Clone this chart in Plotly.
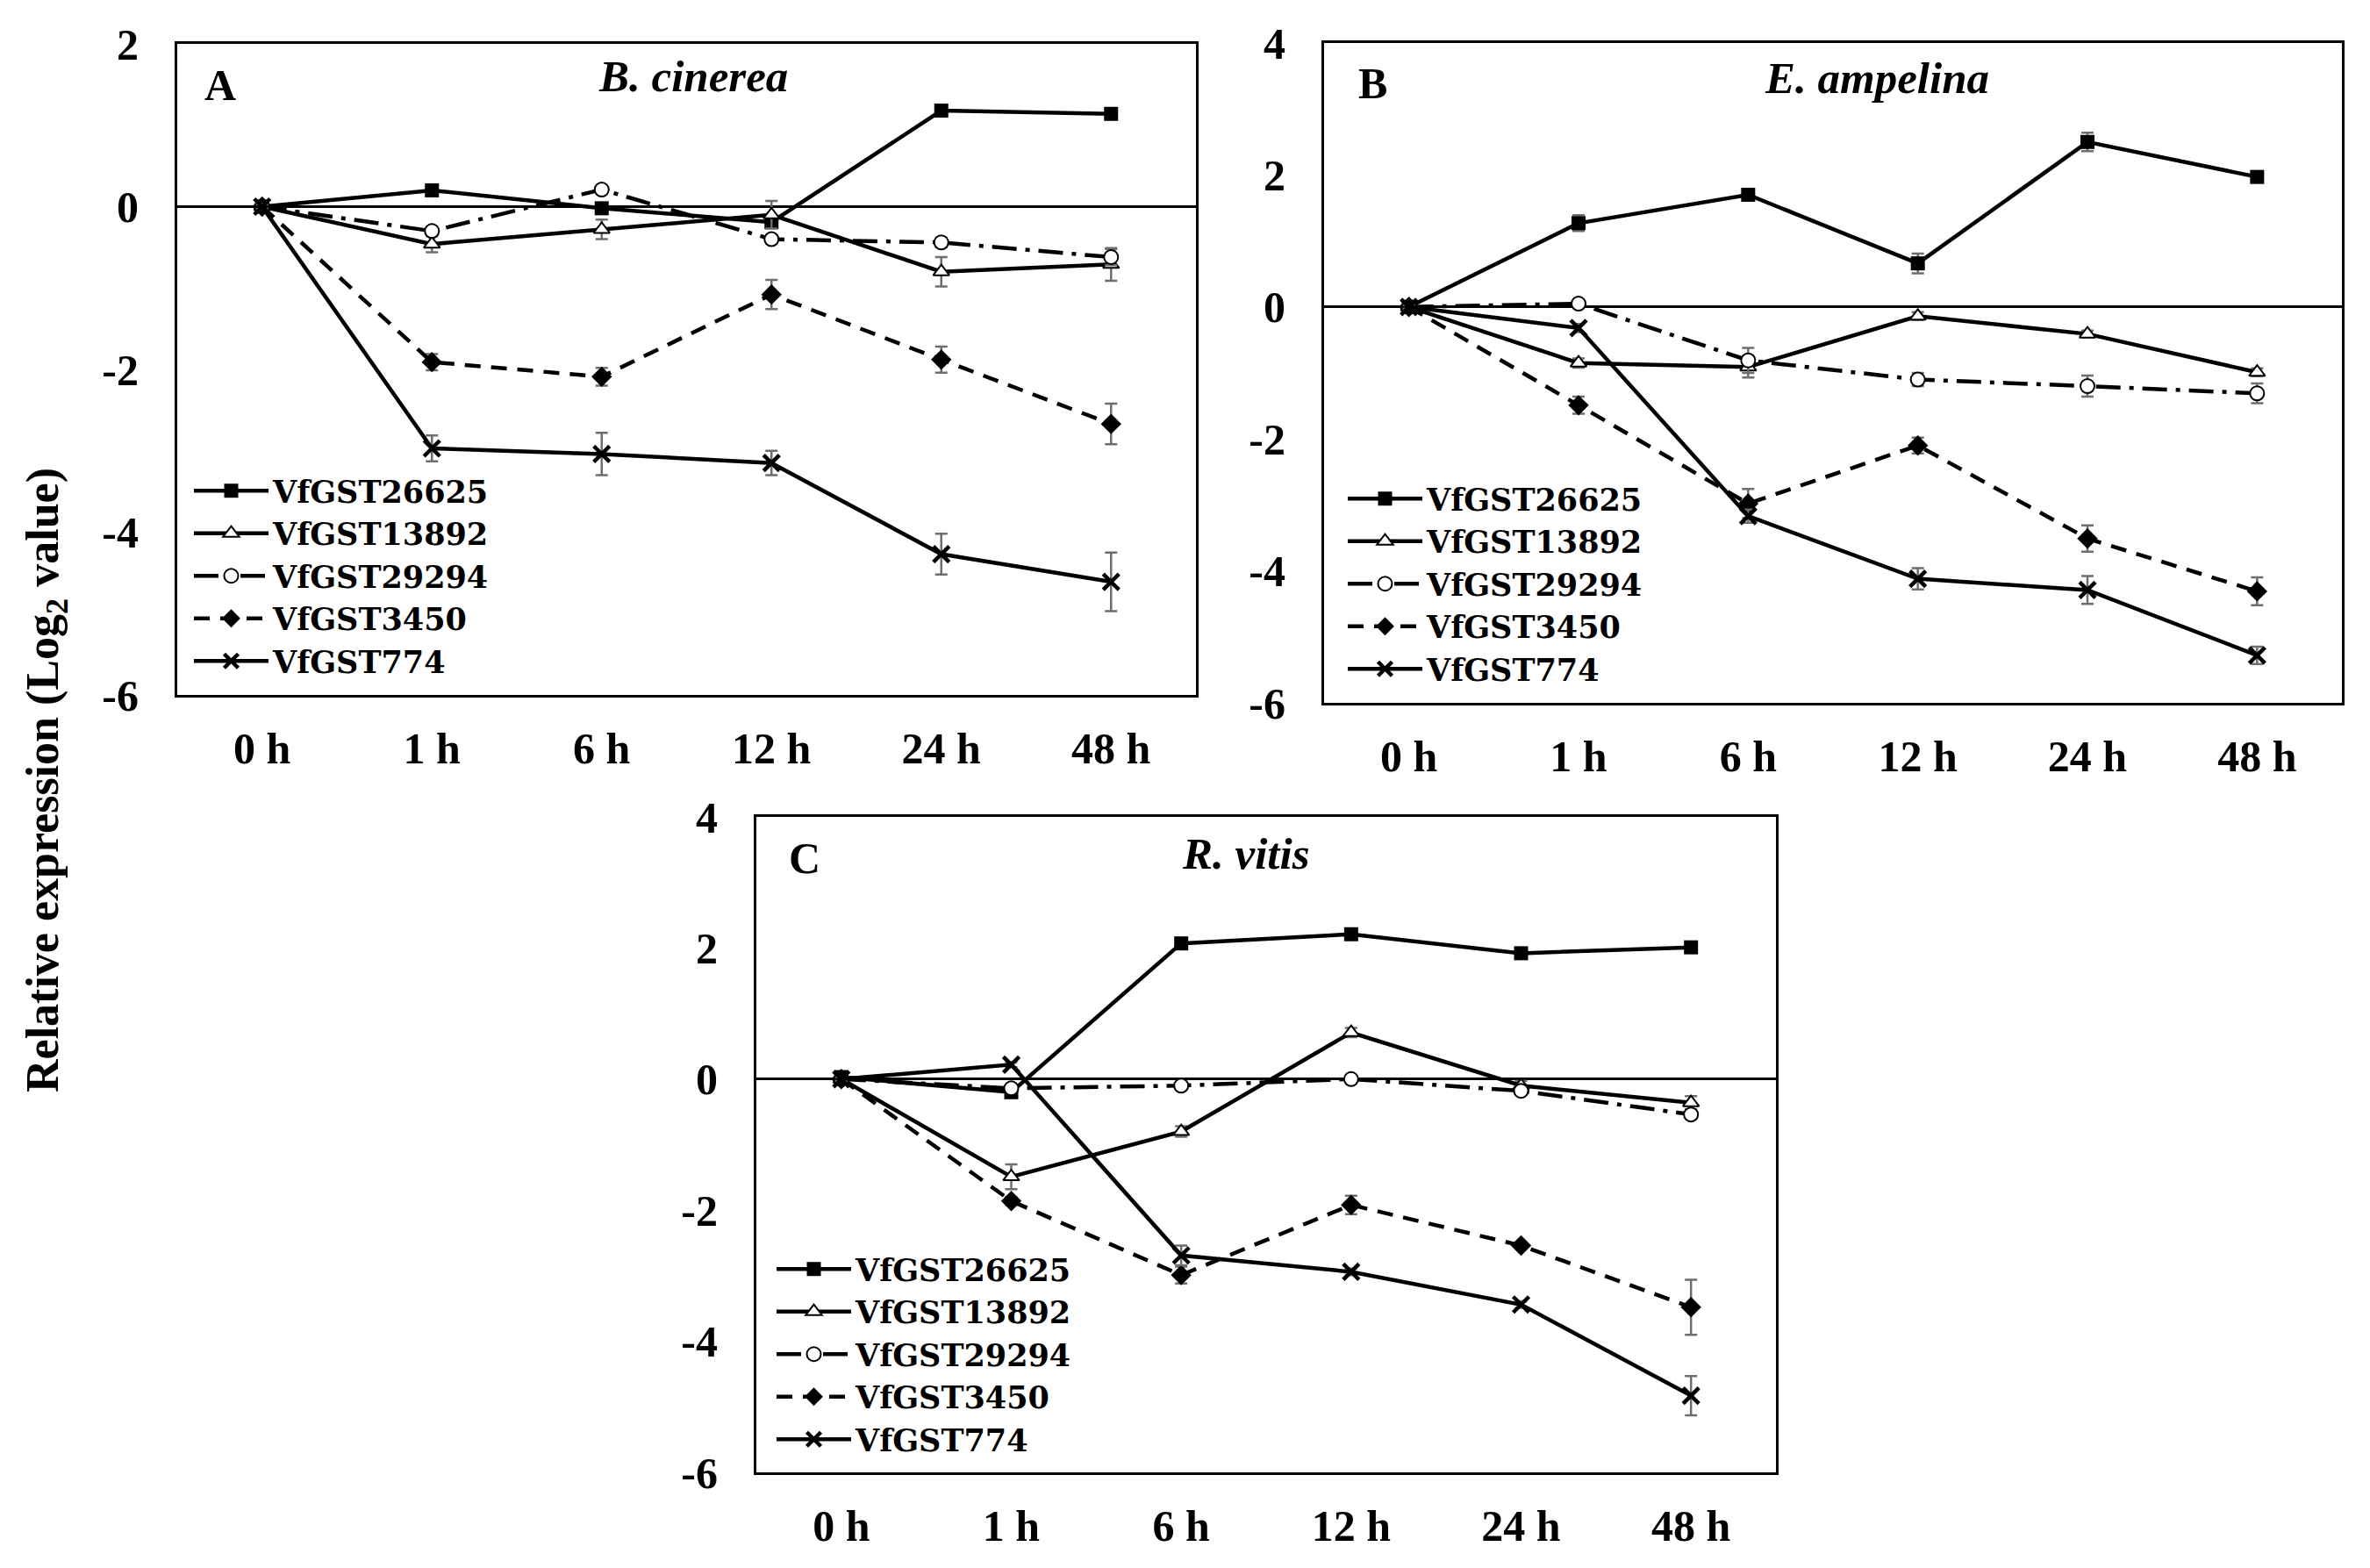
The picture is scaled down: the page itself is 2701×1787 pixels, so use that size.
import plotly.graph_objects as go

W, H = 2701, 1787

times = ["0 h", "1 h", "6 h", "12 h", "24 h", "48 h"]
genes = ["VfGST26625", "VfGST13892", "VfGST29294", "VfGST3450", "VfGST774"]
ytick_vals_a = [-6, -4, -2, 0, 2]
ytick_text_a = ["-6", "-4", "-2", "0", "2"]
ytick_vals_bc = [-6, -4, -2, 0, 2, 4]
ytick_text_bc = ["-6", "-4", "-2", "0", "2", "4"]

# Panel A: B. cinerea
a_26625 = [0, 0.20, -0.02, -0.19, 1.18, 1.14]
a_13892 = [0, -0.46, -0.28, -0.10, -0.80, -0.71]
a_29294 = [0, -0.30, 0.21, -0.40, -0.44, -0.62]
a_3450 = [0, -1.91, -2.09, -1.08, -1.88, -2.67]
a_774 = [0, -2.97, -3.04, -3.15, -4.27, -4.61]
a_err_26625 = [0.03, 0.05, 0.04, 0.06, 0.04, 0.04]
a_err_13892 = [0.03, 0.10, 0.12, 0.17, 0.18, 0.20]
a_err_29294 = [0.03, 0.05, 0.05, 0.05, 0.06, 0.10]
a_err_3450 = [0.03, 0.10, 0.11, 0.18, 0.16, 0.25]
a_err_774 = [0.03, 0.16, 0.26, 0.15, 0.25, 0.36]

# Panel B: E. ampelina
b_26625 = [0, 1.27, 1.70, 0.66, 2.50, 1.97]
b_13892 = [0, -0.85, -0.91, -0.14, -0.41, -0.99]
b_29294 = [0, 0.05, -0.81, -1.10, -1.20, -1.31]
b_3450 = [0, -1.49, -2.98, -2.10, -3.51, -4.31]
b_774 = [0, -0.32, -3.17, -4.12, -4.29, -5.28]
b_err_26625 = [0.03, 0.12, 0.08, 0.15, 0.14, 0.05]
b_err_13892 = [0.03, 0.07, 0.16, 0.06, 0.05, 0.06]
b_err_29294 = [0.03, 0.06, 0.19, 0.10, 0.16, 0.15]
b_err_3450 = [0.03, 0.13, 0.22, 0.12, 0.20, 0.21]
b_err_774 = [0.03, 0.06, 0.10, 0.16, 0.21, 0.13]

# Panel C: R. vitis
c_26625 = [0.03, -0.20, 2.07, 2.21, 1.92, 2.01]
c_13892 = [0, -1.49, -0.80, 0.71, -0.10, -0.36]
c_29294 = [0, -0.14, -0.10, 0.0, -0.18, -0.54]
c_3450 = [0, -1.86, -2.99, -1.92, -2.54, -3.48]
c_774 = [0, 0.22, -2.69, -2.94, -3.44, -4.83]
c_err_26625 = [0.03, 0.05, 0.04, 0.05, 0.06, 0.05]
c_err_13892 = [0.03, 0.19, 0.08, 0.07, 0.07, 0.10]
c_err_29294 = [0.03, 0.04, 0.04, 0.03, 0.06, 0.07]
c_err_3450 = [0.03, 0.06, 0.13, 0.14, 0.05, 0.42]
c_err_774 = [0.03, 0.04, 0.15, 0.05, 0.05, 0.30]

panels = [
    dict(vals=[a_26625, a_13892, a_29294, a_3450, a_774],
         errs=[a_err_26625, a_err_13892, a_err_29294, a_err_3450, a_err_774],
         xa="x", ya="y", legend="legend"),
    dict(vals=[b_26625, b_13892, b_29294, b_3450, b_774],
         errs=[b_err_26625, b_err_13892, b_err_29294, b_err_3450, b_err_774],
         xa="x2", ya="y2", legend="legend2"),
    dict(vals=[c_26625, c_13892, c_29294, c_3450, c_774],
         errs=[c_err_26625, c_err_13892, c_err_29294, c_err_3450, c_err_774],
         xa="x3", ya="y3", legend="legend3"),
]

styles = [
    dict(dash="solid", marker=dict(symbol="square", size=16, color="black")),
    dict(dash="solid", marker=dict(symbol="triangle-up", size=16, color="white",
                                   line=dict(color="black", width=2))),
    dict(dash="28px,10px,5px,10px", marker=dict(symbol="circle", size=16, color="white",
                                                line=dict(color="black", width=2))),
    dict(dash="18px,12px", marker=dict(symbol="diamond", size=18, color="black")),
    dict(dash="solid", marker=dict(symbol="x-thin", size=18, color="black",
                                   line=dict(color="black", width=4.5))),
]

FONT = "Liberation Serif"
LEGFONT = "DejaVu Serif"
fig = go.Figure()
for p in panels:
    for g, v, e, s in zip(genes, p["vals"], p["errs"], styles):
        fig.add_trace(go.Scatter(
            x=times, y=v, name=g, mode="lines+markers",
            xaxis=p["xa"], yaxis=p["ya"], legend=p["legend"],
            line=dict(color="black", width=4.5, dash=s["dash"]),
            marker=s["marker"],
            error_y=dict(type="data", array=e, visible=True, color="#6e6e6e",
                         thickness=2.5, width=7),
        ))

def px_x(v):
    return v / W

def px_y(v):
    return 1 - v / H

domains = {
    "A": dict(x=[px_x(202), px_x(1363)], y=[px_y(792), px_y(50)], yr=[-6, 2],
              tv=ytick_vals_a, tt=ytick_text_a),
    "B": dict(x=[px_x(1509), px_x(2669)], y=[px_y(801), px_y(49)], yr=[-6, 4],
              tv=ytick_vals_bc, tt=ytick_text_bc),
    "C": dict(x=[px_x(862), px_x(2024)], y=[px_y(1678), px_y(931)], yr=[-6, 4],
              tv=ytick_vals_bc, tt=ytick_text_bc),
}

tickfont = dict(family=FONT, size=50, color="black", weight="bold")
axis_common = dict(showline=True, linecolor="black", linewidth=3, mirror=True,
                   showgrid=False, ticks="", tickfont=tickfont, automargin=False)

layout = dict(width=W, height=H, margin=dict(l=0, r=0, t=0, b=0, autoexpand=False),
              paper_bgcolor="white", plot_bgcolor="white", showlegend=True)
for i, key in enumerate(["A", "B", "C"]):
    d = domains[key]
    sfx = "" if i == 0 else str(i + 1)
    layout["xaxis" + sfx] = dict(axis_common, domain=d["x"], anchor="y" + sfx,
                                 type="category", categoryorder="array",
                                 categoryarray=times, range=[-0.5, 5.5],
                                 zeroline=False, ticklabelstandoff=15)
    layout["yaxis" + sfx] = dict(axis_common, domain=d["y"], anchor="x" + sfx,
                                 range=d["yr"], tickmode="array",
                                 tickvals=d["tv"], ticktext=d["tt"],
                                 zeroline=True, zerolinecolor="black", zerolinewidth=3,
                                 ticklabelstandoff=31)

legfont = dict(family=LEGFONT, size=35, color="black", weight="bold")
leg_pos = {"legend": (216, 530), "legend2": (1531, 539), "legend3": (880, 1417)}
for name, (lx, ly) in leg_pos.items():
    layout[name] = dict(x=px_x(lx), y=px_y(ly), xanchor="left", yanchor="top",
                        xref="paper", yref="paper", bgcolor="rgba(0,0,0,0)",
                        font=legfont, itemwidth=85, tracegroupgap=0,
                        traceorder="normal")

fig.update_layout(**layout)

letters = [("A", 251, 97), ("B", 1564, 95), ("C", 917, 978)]
titles = [("B. cinerea", 790, 87), ("E. ampelina", 2139, 89), ("R. vitis", 1420, 973)]
for t, x, y in letters:
    fig.add_annotation(text="<b>%s</b>" % t, x=px_x(x), y=px_y(y), xref="paper", yref="paper",
                       showarrow=False, font=dict(family=FONT, size=50, color="black"),
                       xanchor="center", yanchor="middle")
for t, x, y in titles:
    fig.add_annotation(text="<b><i>%s</i></b>" % t, x=px_x(x), y=px_y(y), xref="paper", yref="paper",
                       showarrow=False, font=dict(family=FONT, size=51, color="black"),
                       xanchor="center", yanchor="middle")

fig.add_annotation(text="<b>Relative expression (Log<sub>2</sub> value)</b>",
                   x=px_x(52), y=px_y(889), xref="paper", yref="paper", textangle=-90,
                   showarrow=False, font=dict(family=FONT, size=52, color="black"),
                   xanchor="center", yanchor="middle")

fig.write_html("out.html")
